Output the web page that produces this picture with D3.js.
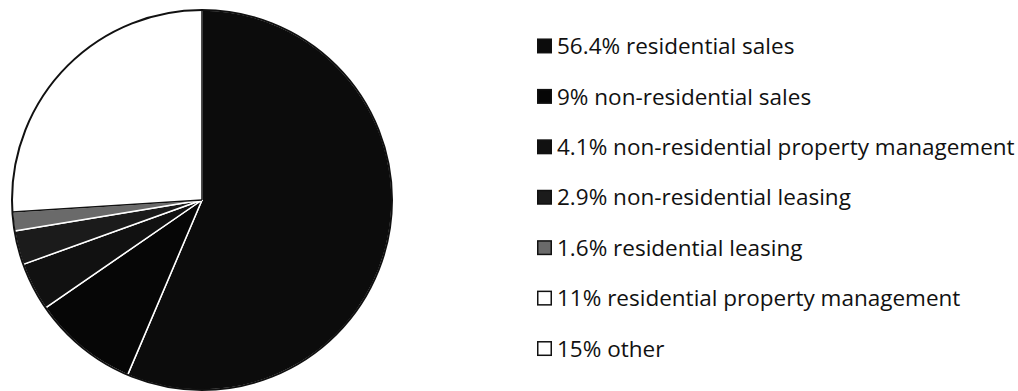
<!DOCTYPE html>
<html>
<head>
<meta charset="utf-8">
<script src="https://cdn.jsdelivr.net/npm/d3@7"></script>
<style>
    html, body { margin: 0; padding: 0; background: #fff; }
    svg { display: block; }
</style>
</head>
<body>
<div id="chart"></div>
<script>
// Data
const categories = [
    'residential sales',
    'non-residential sales',
    'non-residential property management',
    'non-residential leasing',
    'residential leasing',
    'residential property management',
    'other'
];
const shares = [56.4, 9, 4.1, 2.9, 1.6, 11, 15];
const shareLabels = ['56.4%', '9%', '4.1%', '2.9%', '1.6%', '11%', '15%'];

// Grey-scale fills (scanned print)
const fills = ['#0c0c0c', '#060606', '#111111', '#1b1b1b', '#6a6a6a', '#ffffff', '#ffffff'];

const width = 1018;
const height = 391;

/**
 * Draws the pie and its legend
 */
const drawChart = () => {
    const svg = d3.select('#chart').append('svg')
        .attr('width', width)
        .attr('height', height)
        .attr('viewBox', `0 0 ${width} ${height}`);

    const radius = 190;
    const pieGroup = svg.append('g')
        .attr('transform', `translate(202, 200)`);

    const pie = d3.pie()
        .sort(null)
        .value(d => d.value);

    const arc = d3.arc()
        .innerRadius(0)
        .outerRadius(radius);

    const data = categories.map((name, i) => ({ name, value: shares[i], fill: fills[i] }));

    pieGroup.selectAll('.slice')
        .data(pie(data))
        .enter()
        .append('path')
        .attr('class', 'slice')
        .attr('d', arc)
        .attr('fill', d => d.data.fill)
        .attr('stroke', (d, i) => i >= 5 ? 'none' : '#fff')
        .attr('stroke-width', 1.5)
        .attr('stroke-linejoin', 'round');

    // boundary between the dark and the white part
    pieGroup.selectAll('.edge')
        .data(pie(data).filter((d, i) => i === 0 || i === 5))
        .enter()
        .append('line')
        .attr('class', 'edge')
        .attr('x1', 0)
        .attr('y1', 0)
        .attr('x2', d => radius * Math.sin(d.startAngle))
        .attr('y2', d => -radius * Math.cos(d.startAngle))
        .attr('stroke', '#111')
        .attr('stroke-width', 1.5);

    pieGroup.append('circle')
        .attr('r', radius)
        .attr('fill', 'none')
        .attr('stroke', '#111')
        .attr('stroke-width', 2);

    // legend
    const legendY = d3.scaleBand()
        .domain(categories)
        .range([21, 374]);

    const legend = svg.append('g')
        .attr('class', 'legend');

    const rows = legend.selectAll('.row')
        .data(data)
        .enter()
        .append('g')
        .attr('class', 'row')
        .attr('transform', d => `translate(537, ${legendY(d.name) + legendY.bandwidth() / 2})`);

    rows.append('rect')
        .attr('x', 0.75)
        .attr('y', -7)
        .attr('width', 13.5)
        .attr('height', 13.5)
        .attr('fill', d => d.fill)
        .attr('stroke', '#111')
        .attr('stroke-width', 1.5);

    rows.append('text')
        .attr('x', 20)
        .attr('dy', '0.35em')
        .style('font-family', '"Open Sans", sans-serif')
        .style('font-size', '22.5px')
        .style('fill', '#111')
        .text((d, i) => `${shareLabels[i]} ${d.name}`);
};

drawChart();
</script>
</body>
</html>
